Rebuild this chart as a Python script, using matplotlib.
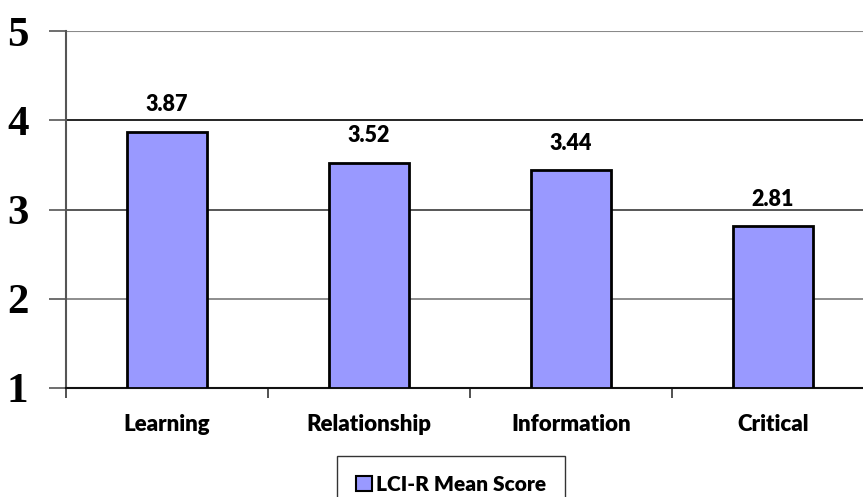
import matplotlib
matplotlib.use("Agg")
import matplotlib.pyplot as plt
from matplotlib.patches import Patch

categories = ["Learning", "Relationship", "Information", "Critical"]
scores = [3.87, 3.52, 3.44, 2.81]
y_ticks = [1, 2, 3, 4, 5]
series_name = "LCI-R Mean Score"

W, H = 863, 497
fig = plt.figure(figsize=(W / 100, H / 100), dpi=100)
ax = fig.add_axes([66 / W, 109 / H, 808 / W, 357 / H])

label_font = {"family": "Lato", "weight": "heavy"}

x = list(range(len(categories)))
ax.bar(x, [s - 1 for s in scores], bottom=1, width=0.4, color="#9999FF",
       edgecolor="black", linewidth=2, zorder=3)

for xi, s in zip(x, scores):
    ax.annotate(f"{s:.2f}", (xi, s), xytext=(0, 12), textcoords="offset points",
                ha="center", va="bottom", fontsize=15.5, **label_font)

ax.set_xlim(-0.5, len(categories) - 0.5)
ax.set_ylim(1, 5)

grid_colors = {2: "#7a7a7a", 3: "#3a3a3a", 4: "#000000", 5: "#8a8a8a"}
for yv, c in grid_colors.items():
    ax.axhline(yv, color=c, linewidth=1.5 if yv == 5 else 1.2, zorder=1)

ax.set_yticks(y_ticks)
ax.set_yticklabels([str(v) for v in y_ticks], fontsize=31, fontweight="bold",
                   family="Liberation Serif")
ax.tick_params(axis="y", length=12, width=1.2, color="#555555", pad=15)

ax.set_xticks(x)
ax.set_xticklabels(categories, fontsize=16, **label_font)
ax.tick_params(axis="x", length=0, pad=19)
# category boundary tick marks
ax.set_xticks([i - 0.5 for i in range(len(categories) + 1)], minor=True)
ax.tick_params(axis="x", which="minor", length=7, width=1.2, color="#333333")

for side in ("top", "right"):
    ax.spines[side].set_visible(False)
ax.spines["left"].set_color("#555555")
ax.spines["left"].set_linewidth(1.5)
ax.spines["bottom"].set_color("#111111")
ax.spines["bottom"].set_linewidth(1.5)

handle = Patch(facecolor="#9999FF", edgecolor="black", linewidth=1.5)
leg = fig.legend([handle], [series_name], loc="upper center",
                 bbox_to_anchor=(451 / W, 1 - 456 / H),
                 prop={"family": "Lato", "weight": "heavy", "size": 15},
                 frameon=True, fancybox=False, handlelength=0.8, handleheight=0.8,
                 handletextpad=0.2, borderpad=0.9, borderaxespad=0)
leg.get_frame().set_edgecolor("black")
leg.get_frame().set_linewidth(1)

fig.savefig("out.png", dpi=100)
